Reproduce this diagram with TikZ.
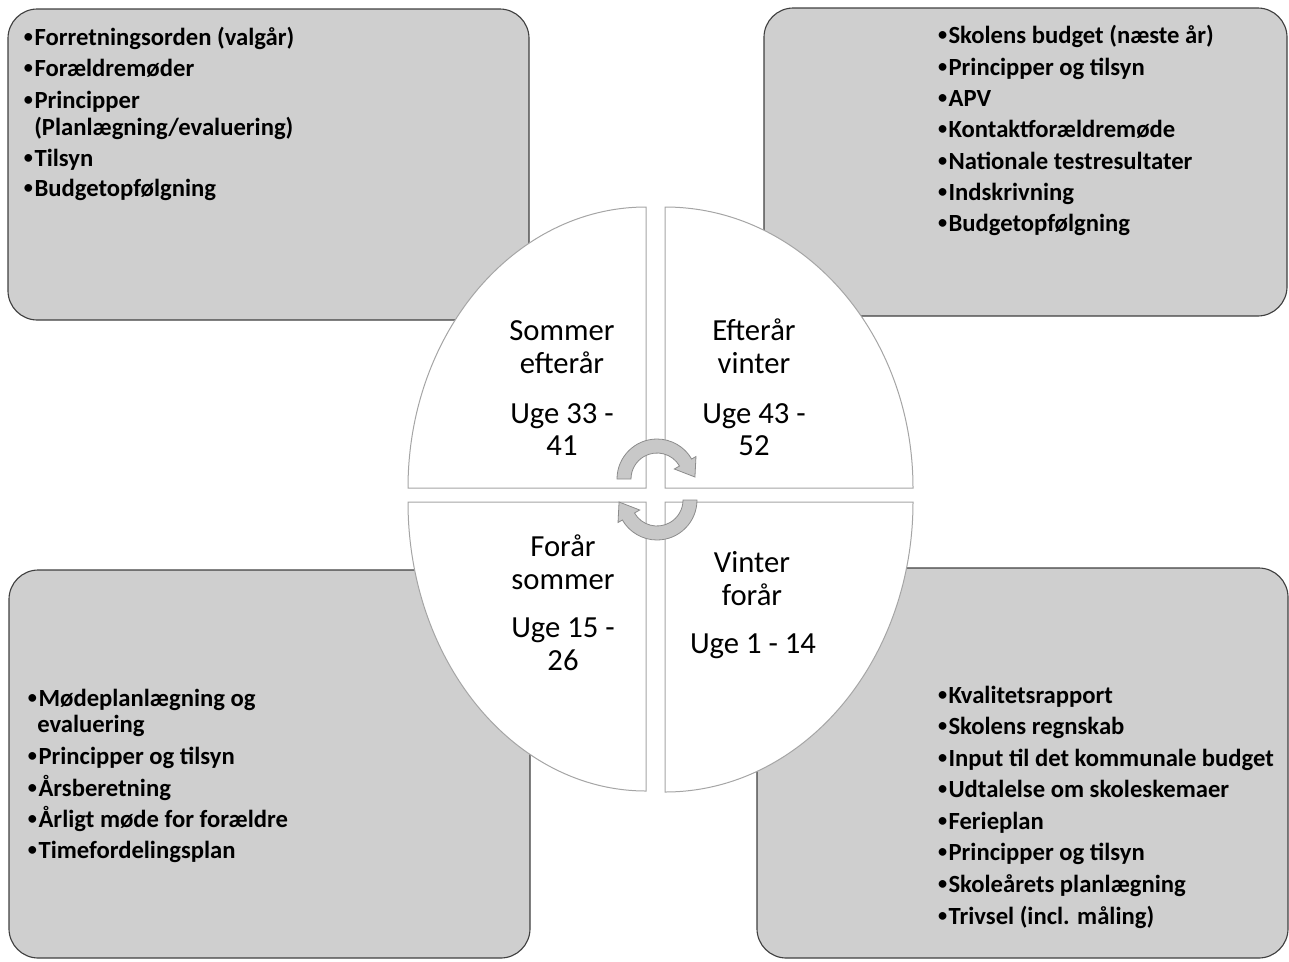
\documentclass[tikz,border=0pt]{standalone}
\usepackage{fontspec}
\usepackage{graphicx}
\setmainfont{Carlito}
\definecolor{boxfill}{RGB}{207,207,207}
\definecolor{boxline}{RGB}{64,64,64}
\definecolor{quadline}{RGB}{165,165,165}
\definecolor{arrfill}{RGB}{200,200,200}
\definecolor{arrline}{RGB}{140,140,140}
\newcommand\smallbul{\rlap{\hspace{0.07em}\raisebox{0.12em}{\scalebox{0.74}{•}}}\phantom{•}}
\begin{document}
\begin{tikzpicture}[x=0.75pt,y=-0.75pt,
  box/.style={draw=boxline,fill=boxfill,line width=0.85pt,rounded corners=22pt},
  quad/.style={draw=quadline,fill=white,line width=0.75pt},
  cyc/.style={draw=arrline,fill=arrfill,line width=0.6pt},
  item/.style={anchor=base west,inner sep=0pt,font=\fontsize{18.5}{20}\selectfont\bfseries},
  season/.style={anchor=base,inner sep=0pt,font=\fontsize{23}{27}\selectfont}]
\useasboundingbox (0,0) rectangle (1289,961);
% corner boxes
\draw[box] (8,9) rectangle (529,320);
\draw[box] (764,8) rectangle (1287,316);
\draw[box] (9,570) rectangle (530,958);
\draw[box] (757,568) rectangle (1288,958);
% quadrants
\draw[quad] (646,488) -- (408,488) arc[start angle=180,end angle=270,x radius=238,y radius=281] -- cycle;
\draw[quad] (665,488) -- (665,207) arc[start angle=270,end angle=360,x radius=248,y radius=281] -- cycle;
\draw[quad] (646,502) -- (646,791) arc[start angle=90,end angle=180,x radius=238,y radius=289] -- cycle;
\draw[quad] (665,502) -- (913,502) arc[start angle=0,end angle=90,x radius=248,y radius=290] -- cycle;
% cycle arrows
\draw[cyc,shift={(657,479)}] (180:40) arc[start angle=180,end angle=330,radius=40]
  -- (330:45) -- (357:38) -- (330:20) -- (330:26)
  arc[start angle=330,end angle=180,radius=26] -- cycle;
\draw[cyc,shift={(657,500)}] (0:40) arc[start angle=0,end angle=150,radius=40]
  -- (150:45) -- (177:38) -- (150:20) -- (150:26)
  arc[start angle=150,end angle=0,radius=26] -- cycle;
% season labels
\node[season] (s1a) at (562,340) {Sommer};
\node[season] (s1b) at (562,373) {efterår};
\node[season] (s1c) at (562,423) {Uge 33 -};
\node[season] (s1d) at (562,455) {41};
\node[season] (s2a) at (754,340) {Efterår};
\node[season] (s2b) at (754,373) {vinter};
\node[season] (s2c) at (754,423) {Uge 43 -};
\node[season] (s2d) at (754,455) {52};
\node[season] (s3a) at (563,556) {Forår};
\node[season] (s3b) at (563,589) {sommer};
\node[season] (s3c) at (563,637) {Uge 15 -};
\node[season] (s3d) at (563,670) {26};
\node[season] (s4a) at (752,572) {Vinter};
\node[season] (s4b) at (752,605) {forår};
\node[season] (s4c) at (753,653) {Uge 1 - 14};
% top-left list
\node[item] (a1) at (22,45) {\smallbul Forretningsorden (valgår)};
\node[item] (a2) at (22,76.7) {\smallbul Forældremøder};
\node[item] (a3) at (22,108.3) {\smallbul Principper};
\node[item] (a4) at (34,135) {(Planlægning/evaluering)};
\node[item] (a5) at (22,166) {\smallbul Tilsyn};
\node[item] (a6) at (22,196.7) {\smallbul Budgetopfølgning};
% top-right list
\node[item] (b1) at (936,43.3) {\smallbul Skolens budget (næste år)};
\node[item] (b2) at (936,75) {\smallbul Principper og tilsyn};
\node[item] (b3) at (936,106) {\smallbul APV};
\node[item] (b4) at (936,137.3) {\smallbul Kontaktforældremøde};
\node[item] (b5) at (936,169) {\smallbul Nationale testresultater};
\node[item] (b6) at (936,200) {\smallbul Indskrivning};
\node[item] (b7) at (936,231) {\smallbul Budgetopfølgning};
% bottom-left list
\node[item] (c1) at (26,706.7) {\smallbul Mødeplanlægning og};
\node[item] (c2) at (37,732.7) {evaluering};
\node[item] (c3) at (26,764.3) {\smallbul Principper og tilsyn};
\node[item] (c4) at (26,796) {\smallbul Årsberetning};
\node[item] (c5) at (26,827.3) {\smallbul Årligt møde for forældre};
\node[item] (c6) at (26,858.7) {\smallbul Timefordelingsplan};
% bottom-right list
\node[item] (d1) at (936,703.3) {\smallbul Kvalitetsrapport};
\node[item] (d2) at (936,734.3) {\smallbul Skolens regnskab};
\node[item] (d3) at (936,766) {\smallbul Input til det kommunale budget};
\node[item] (d4) at (936,797.3) {\smallbul Udtalelse om skoleskemaer};
\node[item] (d5) at (936,829.3) {\smallbul Ferieplan};
\node[item] (d6) at (936,860.7) {\smallbul Principper og tilsyn};
\node[item] (d7) at (936,892.7) {\smallbul Skoleårets planlægning};
\node[item] (d8) at (936,924) {\smallbul Trivsel (incl. måling)};
\end{tikzpicture}
\end{document}
